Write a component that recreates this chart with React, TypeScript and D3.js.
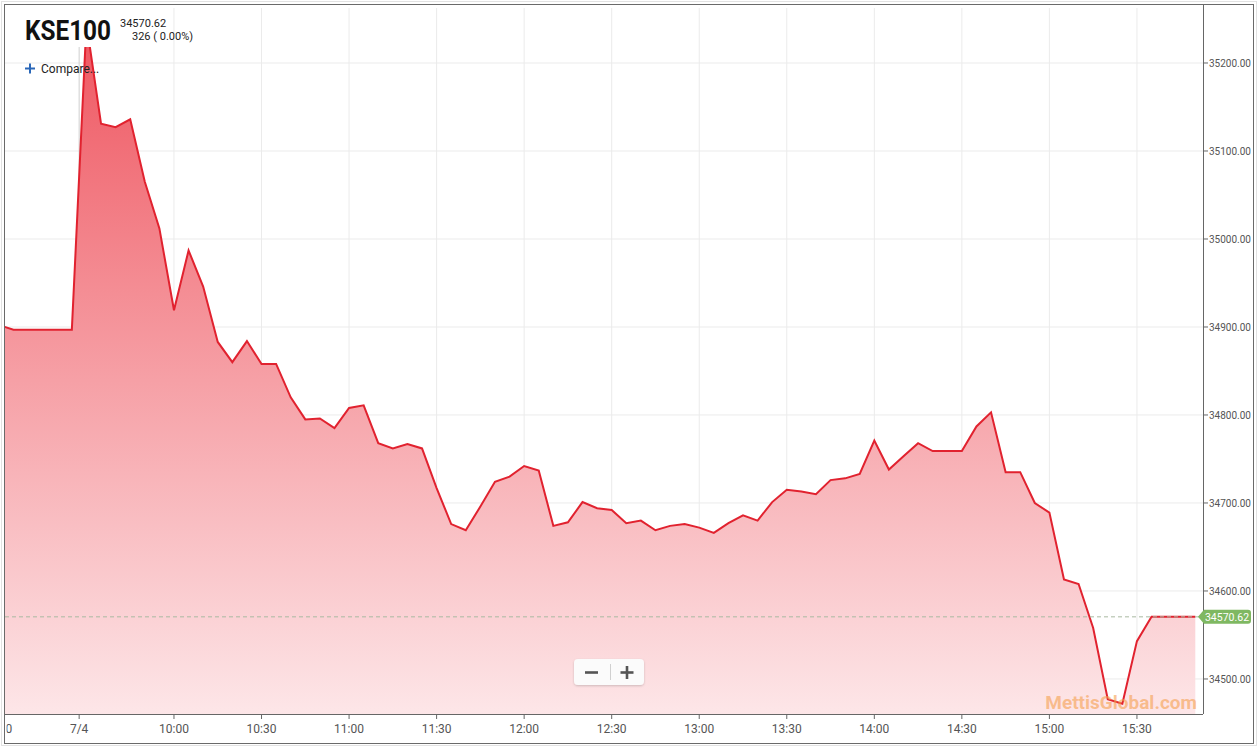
import React from "react";
import * as d3 from "d3";

// previous session tail (index 0-5) followed by the 7/4 session (index 6-82)
const TIMES = [
  "15:00", "15:05", "15:10", "15:15", "15:20", "15:25",
  "9:30", "9:35", "9:40", "9:45", "9:50", "9:55",
  "10:00", "10:05", "10:10", "10:15", "10:20", "10:25", "10:30", "10:35", "10:40", "10:45", "10:50", "10:55",
  "11:00", "11:05", "11:10", "11:15", "11:20", "11:25", "11:30", "11:35", "11:40", "11:45", "11:50", "11:55",
  "12:00", "12:05", "12:10", "12:15", "12:20", "12:25", "12:30", "12:35", "12:40", "12:45", "12:50", "12:55",
  "13:00", "13:05", "13:10", "13:15", "13:20", "13:25", "13:30", "13:35", "13:40", "13:45", "13:50", "13:55",
  "14:00", "14:05", "14:10", "14:15", "14:20", "14:25", "14:30", "14:35", "14:40", "14:45", "14:50", "14:55",
  "15:00", "15:05", "15:10", "15:15", "15:20", "15:25", "15:30", "15:35", "15:40", "15:45", "15:50",
];

const VALUES = [
  34902, 34897, 34897, 34897, 34897, 34897,
  35245, 35131, 35127, 35136, 35065, 35012,
  34919, 34987, 34946, 34883, 34860, 34884, 34858, 34858, 34820, 34795, 34796, 34785,
  34808, 34811, 34768, 34762, 34767, 34762, 34717, 34676, 34669, 34696, 34724, 34730,
  34742, 34737, 34674, 34678, 34701, 34694, 34692, 34677, 34680, 34669, 34674, 34676,
  34672, 34666, 34677, 34686, 34680, 34701, 34715, 34713, 34710, 34726, 34728, 34733,
  34771, 34738, 34753, 34768, 34759, 34759, 34759, 34787, 34803, 34735, 34735, 34700,
  34689, 34613, 34608, 34558, 34477, 34472, 34543, 34570.62, 34570.62, 34570.62, 34570.62,
];

const SESSION_BREAK = 5.5; // between previous close and 7/4 open
const X_TICK_LABELS = ["15:00", "7/4", "10:00", "10:30", "11:00", "11:30", "12:00", "12:30", "13:00", "13:30", "14:00", "14:30", "15:00", "15:30"];
const X_TICK_INDEX = [0, SESSION_BREAK, 12, 18, 24, 30, 36, 42, 48, 54, 60, 66, 72, 78];
const Y_TICKS = [34500, 34600, 34700, 34800, 34900, 35000, 35100, 35200];

const SYMBOL = "KSE100";
const LAST = 34570.62;
const CHANGE_TEXT = "326 ( 0.00%)";

const W = 1258;
const H = 747;
const PL = 5, PR = 1203, PT = 5, PB = 714;

export default function App() {
  const x = d3.scaleLinear().domain([0, VALUES.length - 1]).range([-1.1, 1195.3]);
  const y = d3.scaleLinear().domain([34460.2, 35265.9]).range([PB, PT]);

  const pts = VALUES.map((v, i) => [x(i), y(v)] as [number, number]);
  const line = d3.line<[number, number]>().x((d) => d[0]).y((d) => d[1])(pts) || "";
  const area = d3.area<[number, number]>().x((d) => d[0]).y0(PB).y1((d) => d[1])(pts) || "";
  const fmt = d3.format(".2f");
  const font = "Roboto, 'Noto Sans', sans-serif";
  const yLast = y(LAST);

  return (
    <svg width={W} height={H} style={{ position: "absolute", left: 0, top: 0, background: "#fff" }} fontFamily={font}>
      <defs>
        <clipPath id="plot">
          <rect x={PL} y={PT} width={PR - PL} height={PB - PT} />
        </clipPath>
        <clipPath id="xlab">
          <rect x={PL + 1.5} y={PB} width={PR - PL + 30} height={H - PB - 4} />
        </clipPath>
        <linearGradient id="fillGrad" gradientUnits="userSpaceOnUse" x1="0" y1={47} x2="0" y2={PB}>
          <stop offset="0" stopColor="#ef5a64" />
          <stop offset="1" stopColor="#fde6e8" />
        </linearGradient>
        <filter id="btnShadow" x="-20%" y="-30%" width="140%" height="160%">
          <feDropShadow dx="0" dy="1" stdDeviation="1.2" floodColor="#000" floodOpacity="0.18" />
        </filter>
      </defs>

      {/* outer frame */}
      <rect x={1.5} y={1.5} width={W - 3} height={H - 3} fill="none" stroke="#e2e2e2" />
      <rect x={4.5} y={4.5} width={1249} height={739} fill="none" stroke="#6a6a6a" />

      {/* grid */}
      <g clipPath="url(#plot)">
        {Y_TICKS.map((t) => (
          <line key={"gy" + t} x1={PL} x2={PR} y1={y(t)} y2={y(t)} stroke="#ebebeb" />
        ))}
        {X_TICK_INDEX.map((t, i) => (
          <line key={"gx" + i} x1={x(t)} x2={x(t)} y1={PT + 3} y2={PB}
            stroke={t === SESSION_BREAK ? "#cfcfcf" : "#ebebeb"} />
        ))}
      </g>

      {/* series */}
      <g clipPath="url(#plot)">
        <path d={area} fill="url(#fillGrad)" />
        <path d={line} fill="none" stroke="#e1222f" strokeWidth={2} strokeLinejoin="miter" />
        <line x1={PL} x2={PR} y1={yLast} y2={yLast} stroke="#a9b9a2" strokeDasharray="4,3" />
      </g>

      {/* header cover */}
      <rect x={PL} y={PT + 1} width={112} height={41} fill="#fff" />
      <text x={25} y={40} fontSize={27} fontWeight={700} fill="#111" textLength={86} lengthAdjust="spacingAndGlyphs">{SYMBOL}</text>
      <text x={120} y={27} fontSize={11} fill="#222">{fmt(LAST)}</text>
      <text x={132} y={40} fontSize={11} fill="#222">{CHANGE_TEXT}</text>
      <g stroke="#2a67b8" strokeWidth={2}>
        <line x1={25} x2={35} y1={68.5} y2={68.5} />
        <line x1={30} x2={30} y1={63.5} y2={73.5} />
      </g>
      <text x={41} y={73} fontSize={12} fill="#222">Compare...</text>

      {/* axes */}
      <line x1={PL} x2={PR} y1={PB + 0.5} y2={PB + 0.5} stroke="#666" />
      <line x1={PR + 0.5} x2={PR + 0.5} y1={PT} y2={PB} stroke="#666" />
      {Y_TICKS.map((t) => (
        <g key={"ty" + t}>
          <line x1={PR} x2={PR + 5} y1={y(t)} y2={y(t)} stroke="#666" />
          <text x={1209} y={y(t) + 4} fontSize={10} fill="#555">{fmt(t)}</text>
        </g>
      ))}
      <g clipPath="url(#xlab)">
        {X_TICK_INDEX.map((t, i) => (
          <g key={"tx" + i}>
            <line x1={x(t)} x2={x(t)} y1={PB} y2={PB + 5} stroke="#666" />
            <text x={x(t)} dx={t === 0 ? -1.5 : 0} y={733} fontSize={12} fill="#555" textAnchor="middle">{X_TICK_LABELS[i]}</text>
          </g>
        ))}
      </g>

      {/* last price label */}
      <g>
        <path d={`M${PR - 5},${yLast} L${PR + 1},${yLast - 7} H${1248} a3,3 0 0 1 3,3 V${yLast + 4} a3,3 0 0 1 -3,3 H${PR + 1} Z`} fill="#7fb862" />
        <text x={1227} y={yLast + 4} fontSize={10.5} fill="#fff" textAnchor="middle">{fmt(LAST)}</text>
      </g>

      {/* zoom buttons */}
      <g filter="url(#btnShadow)">
        <rect x={574} y={659} width={70} height={26} rx={4} fill="#fbfbfb" />
      </g>
      <line x1={610.5} x2={610.5} y1={664} y2={680} stroke="#d0d0d0" />
      <g stroke="#555" strokeWidth={2.6}>
        <line x1={585} x2={598} y1={672.5} y2={672.5} />
        <line x1={620.5} x2={633.5} y1={672.5} y2={672.5} />
        <line x1={627} x2={627} y1={666} y2={679} />
      </g>

      {/* watermark */}
      <text x={1197} y={709} fontSize={19} fontWeight={700} fill="#f5a04f" fillOpacity={0.6} textAnchor="end">MettisGlobal.com</text>
    </svg>
  );
}
